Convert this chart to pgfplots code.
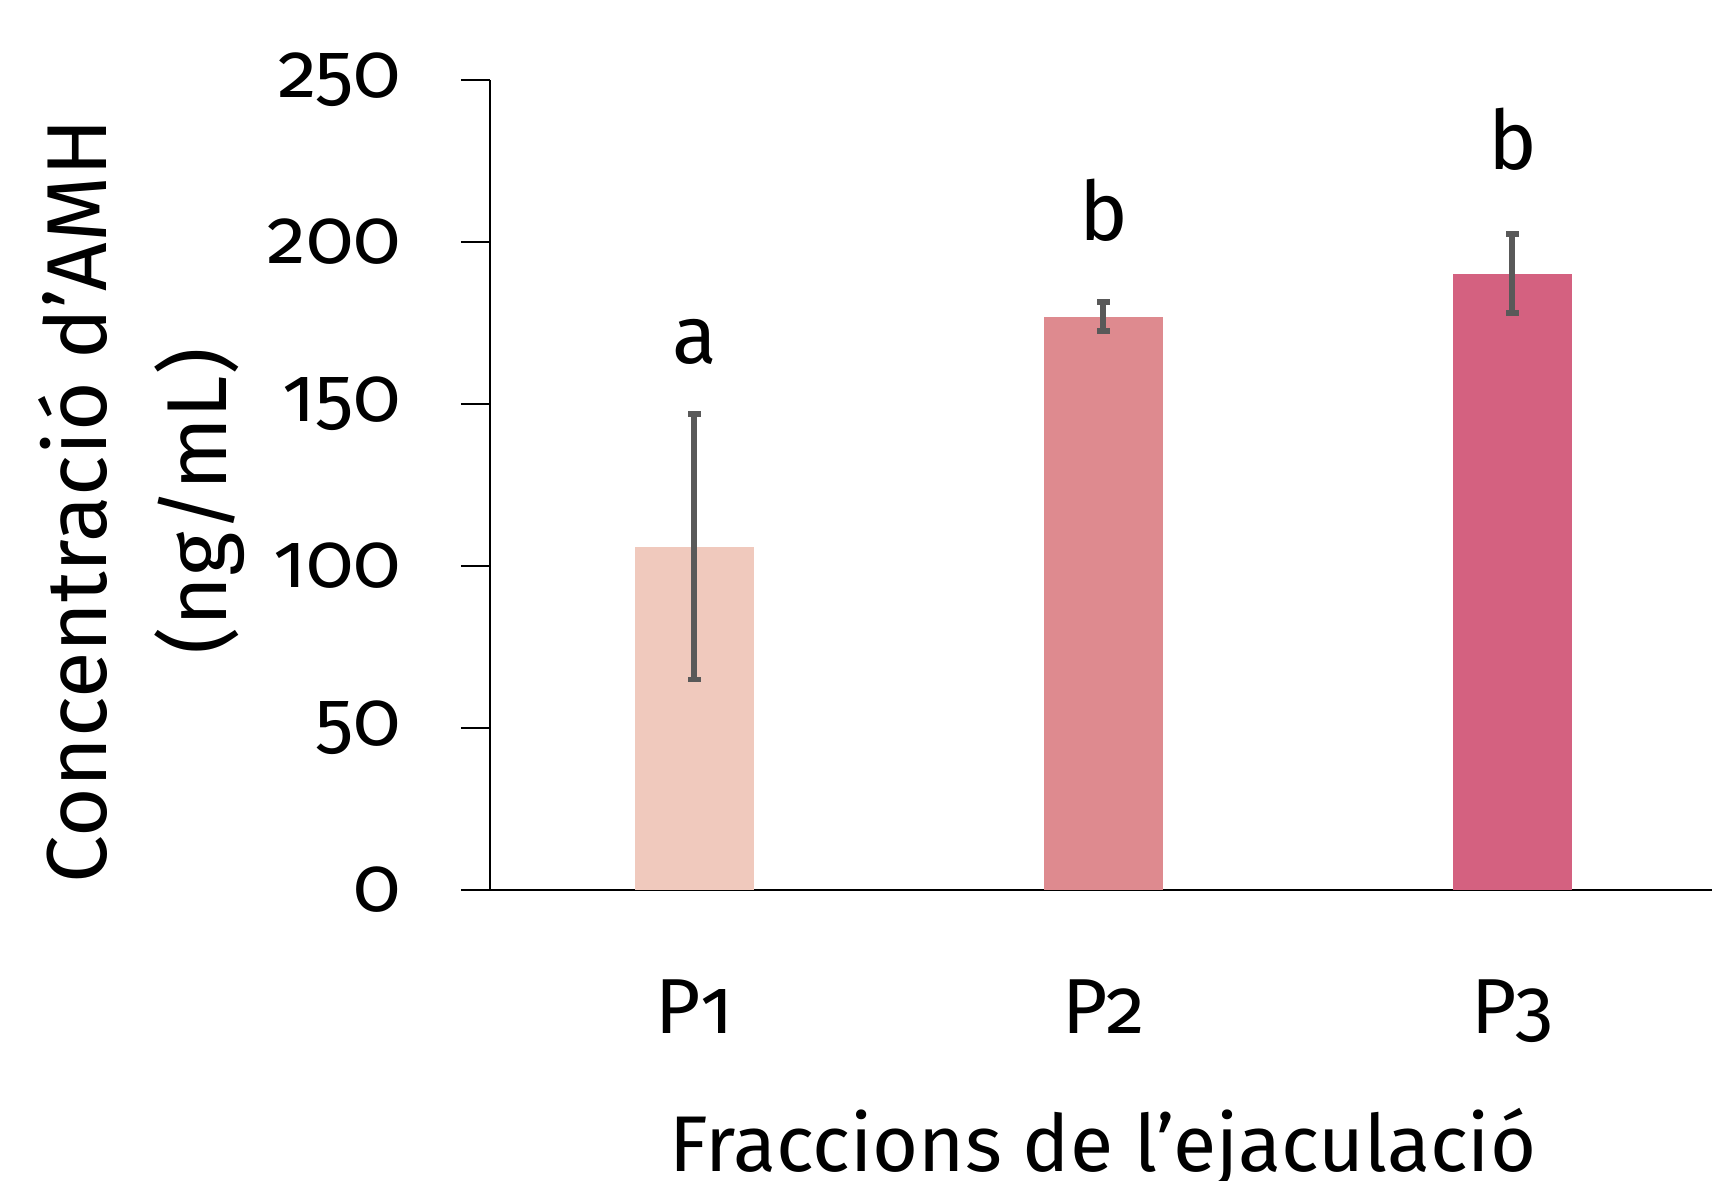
\documentclass[border=0pt]{standalone}
\usepackage{fontspec}
\setmainfont{Fira Sans}[Numbers=OldStyle]
\usepackage{pgfplots}
\pgfplotsset{compat=1.18}
\definecolor{cA}{RGB}{240,201,189}
\definecolor{cB}{RGB}{222,138,143}
\definecolor{cC}{RGB}{212,97,128}
\definecolor{errc}{RGB}{89,89,89}
\begin{document}
\begin{tikzpicture}
\begin{axis}[
  at={(0pt,0pt)}, anchor=south west,
  scale only axis, width=611pt, height=405pt,
  xmin=0.5, xmax=3.488, ymin=0, ymax=250,
  axis x line=bottom, axis y line=left,
  axis line style={-, line width=1pt, black},
  ytick={0,50,100,150,200,250}, tick align=outside, major tick length=14.5pt,
  ytick style={line width=1pt, black},
  xtick={1,2,3}, xticklabels={P1,P2,P3}, xtick style={draw=none},
  /pgf/number format/assume math mode=true,
  ticklabel style={font=\fontsize{39}{39}\selectfont, inner sep=0pt},
  yticklabel style={xshift=-30pt},
  xticklabel style={yshift=-30pt},
  xlabel={Fraccions de l’ejaculació},
  xlabel style={at={(axis description cs:0.5016,0)}, anchor=base, yshift=-140.5pt, font=\fontsize{39.5}{39.5}\selectfont, inner sep=0pt},
  ylabel={Concentració d’AMH\\(ng/mL)},
  ylabel style={at={(axis description cs:-0.2848,0.48)}, anchor=center, align=center, font=\fontsize{42.5}{60}\selectfont, inner sep=0pt},
  clip=false,
  error bars/error bar style={line width=3pt, errc},
  error bars/error mark options={line width=2.8pt, errc, mark size=3.1pt, rotate=90},
]
\addplot[ybar, bar width=59.5pt, bar shift=0pt, fill=cA, draw=none,
  error bars/.cd, y dir=both, y explicit]
  coordinates {(1,106) +- (0,41)};
\addplot[ybar, bar width=59.5pt, bar shift=0pt, fill=cB, draw=none,
  error bars/.cd, y dir=both, y explicit]
  coordinates {(2,177) +- (0,4.5)};
\addplot[ybar, bar width=59.5pt, bar shift=0pt, fill=cC, draw=none,
  error bars/.cd, y dir=both, y explicit]
  coordinates {(3,190.2) +- (0,12.2)};
\node[anchor=base, font=\fontsize{41}{41}\selectfont, inner sep=0pt] at (axis cs:1,162.5) {a};
\node[anchor=base, font=\fontsize{41}{41}\selectfont, inner sep=0pt] at (axis cs:2,200.6) {b};
\node[anchor=base, font=\fontsize{41}{41}\selectfont, inner sep=0pt] at (axis cs:3,222.5) {b};
\end{axis}
\pgfresetboundingbox
\useasboundingbox (-245pt,-145pt) rectangle (611pt,445pt);
\end{tikzpicture}
\end{document}
